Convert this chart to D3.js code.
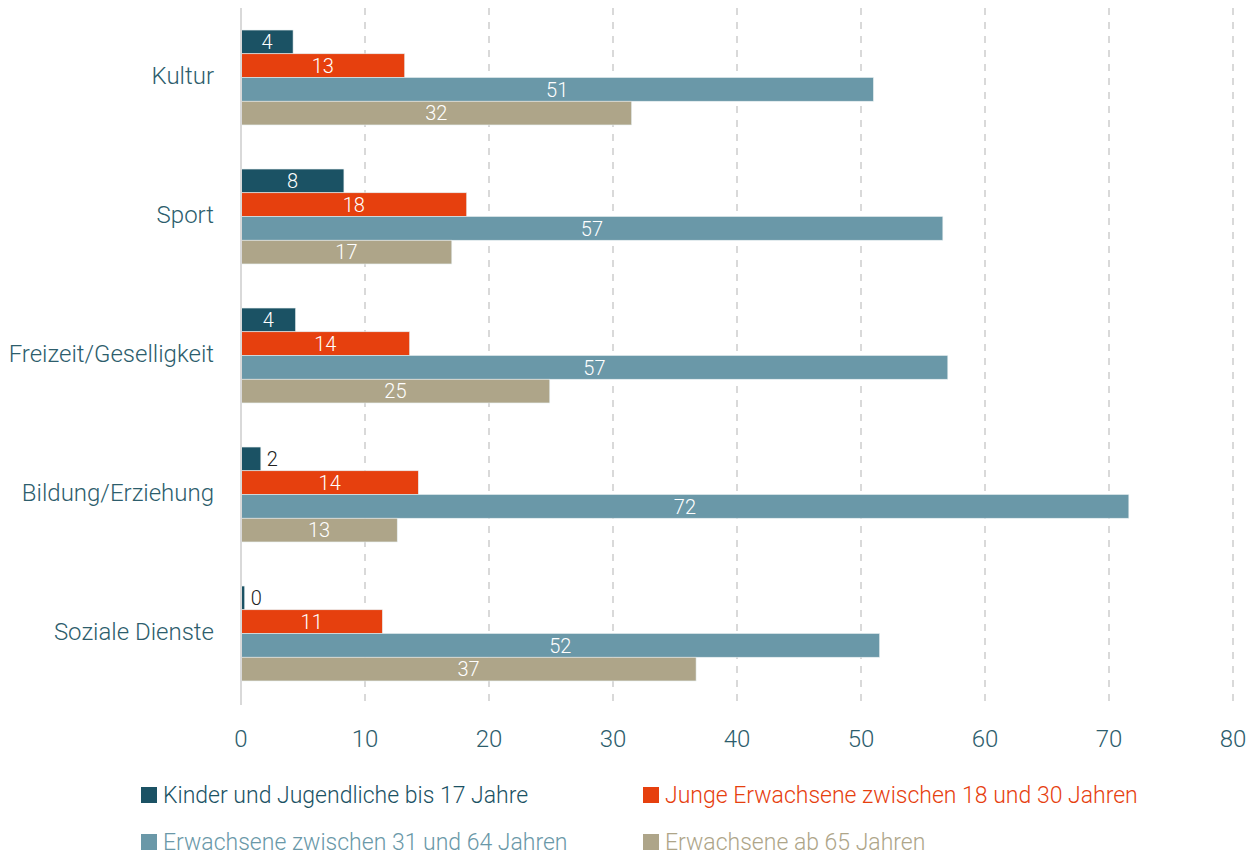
<!DOCTYPE html>
<html lang="de">
<head>
<meta charset="UTF-8">
<title>Engagement nach Altersgruppen</title>
<script src="https://d3js.org/d3.v7.min.js"></script>
<style>
  body { margin: 0; background: #fff; }
  text { font-family: Roboto, "Open Sans", sans-serif; font-weight: 300; }
</style>
</head>
<body>
<div id="chart"></div>
<script>
// categories and series
const categories = ["Kultur", "Sport", "Freizeit/Geselligkeit", "Bildung/Erziehung", "Soziale Dienste"];
const seriesNames = [
  "Kinder und Jugendliche bis 17 Jahre",
  "Junge Erwachsene zwischen 18 und 30 Jahren",
  "Erwachsene zwischen 31 und 64 Jahren",
  "Erwachsene ab 65 Jahren"
];
const kinder   = [4.2, 8.3, 4.4, 1.6, 0.3];
const junge    = [13.2, 18.2, 13.6, 14.3, 11.4];
const mittlere = [51.0, 56.6, 57.0, 71.6, 51.5];
const senioren = [31.5, 17.0, 24.9, 12.6, 36.7];
const xTicks = [0, 10, 20, 30, 40, 50, 60, 70, 80];

const colors = ["#1b5264", "#e6400e", "#6a98a8", "#aea589"];

const W = 1255, H = 856;
const margin = {top: 8, left: 241, right: 22, bottom: 151};

const svg = d3.select("#chart").append("svg")
  .attr("width", W).attr("height", H);

const x = d3.scaleLinear().domain([0, 80]).range([margin.left, W - margin.right]);
const y = d3.scaleBand().domain(categories)
  .range([margin.top, H - 153])
  .paddingInner(0.317).paddingOuter(0.1585);
const inner = d3.scaleBand().domain(d3.range(4)).range([0, y.bandwidth()]);

// grid
svg.append("g").selectAll("line")
  .data(xTicks.slice(1))
  .join("line")
  .attr("x1", d => x(d)).attr("x2", d => x(d))
  .attr("y1", margin.top).attr("y2", H - margin.bottom)
  .attr("stroke", "#d9d9d9").attr("stroke-width", 2)
  .attr("stroke-dasharray", "7,7");

// bars
const table = categories.map((c, i) => ({
  cat: c,
  vals: [kinder[i], junge[i], mittlere[i], senioren[i]]
}));

const grp = svg.append("g").selectAll("g")
  .data(table).join("g")
  .attr("transform", d => `translate(0,${y(d.cat)})`);

grp.selectAll("rect")
  .data(d => d.vals.map((v, k) => ({v, k})))
  .join("rect")
  .attr("x", x(0))
  .attr("y", d => inner(d.k))
  .attr("width", d => x(d.v) - x(0))
  .attr("height", inner.bandwidth())
  .attr("fill", d => colors[d.k])
  .attr("stroke", "#e6eef0").attr("stroke-width", 0.6);

const outside = d => (x(d.v) - x(0)) < 30;
grp.selectAll("text")
  .data(d => d.vals.map((v, k) => ({v, k})))
  .join("text")
  .attr("x", d => outside(d) ? x(d.v) + 6 : (x(0) + x(d.v)) / 2)
  .attr("y", d => inner(d.k) + inner.bandwidth() / 2)
  .attr("dy", "0.36em")
  .attr("text-anchor", d => outside(d) ? "start" : "middle")
  .attr("font-size", 20)
  .attr("fill", d => outside(d) ? "#222" : "#fff")
  .text(d => Math.round(d.v));

// y axis line
svg.append("line")
  .attr("x1", x(0)).attr("x2", x(0))
  .attr("y1", margin.top).attr("y2", H - margin.bottom)
  .attr("stroke", "#d9d9d9").attr("stroke-width", 2);

// category labels
svg.append("g").selectAll("text")
  .data(categories).join("text")
  .attr("x", 214)
  .attr("y", d => y(d) + y.bandwidth() / 2 - 2)
  .attr("dy", "0.36em")
  .attr("text-anchor", "end")
  .attr("font-size", 24)
  .attr("fill", "#2d5d6c")
  .text(d => d);

// x tick labels
svg.append("g").selectAll("text")
  .data(xTicks).join("text")
  .attr("x", d => x(d))
  .attr("y", 738)
  .attr("dy", "0.36em")
  .attr("text-anchor", "middle")
  .attr("font-size", 24)
  .attr("fill", "#2d5d6c")
  .text(d => d);

// legend
const legPos = [[141, 795], [643, 795], [141, 842], [643, 842]];
const leg = svg.append("g").selectAll("g")
  .data(seriesNames).join("g")
  .attr("transform", (d, i) => `translate(${legPos[i][0]},${legPos[i][1]})`);
leg.append("rect")
  .attr("x", 0).attr("y", -8).attr("width", 16).attr("height", 16)
  .attr("fill", (d, i) => colors[i]);
leg.append("text")
  .attr("x", 22).attr("y", 0).attr("dy", "0.36em")
  .attr("font-size", 23)
  .attr("fill", (d, i) => colors[i])
  .text(d => d);
</script>
</body>
</html>
